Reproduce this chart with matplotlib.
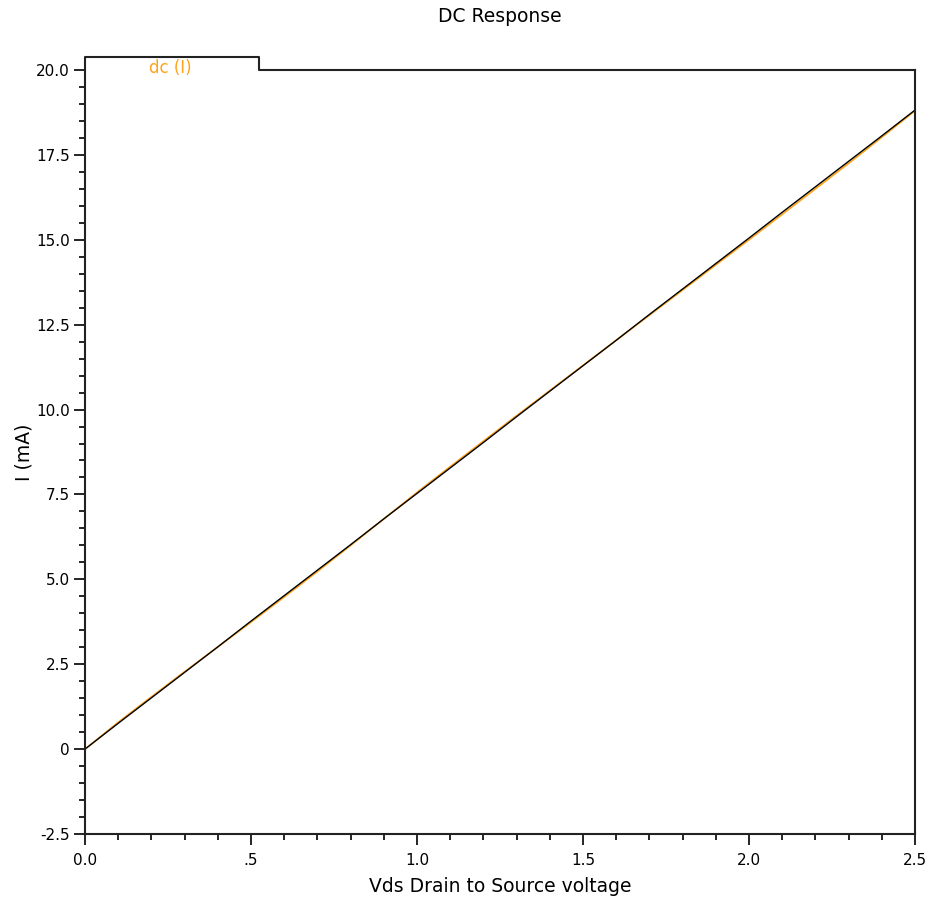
import matplotlib.pyplot as plt
from matplotlib.ticker import FixedLocator, MultipleLocator

# sweep values
vds = [0.0, 0.1, 0.2, 0.3, 0.4, 0.5, 0.6, 0.7, 0.8, 0.9, 1.0, 1.1, 1.2,
       1.3, 1.4, 1.5, 1.6, 1.7, 1.8, 1.9, 2.0, 2.1, 2.2, 2.3, 2.4, 2.5]
i_black = [0.0, 0.76, 1.51, 2.26, 3.01, 3.77, 4.52, 5.27, 6.02, 6.78,
           7.53, 8.28, 9.03, 9.79, 10.54, 11.29, 12.04, 12.80, 13.55,
           14.30, 15.05, 15.81, 16.56, 17.31, 18.06, 18.82]
i_dc = [0.0, 0.79, 1.54, 2.28, 3.01, 3.74, 4.48, 5.23, 6.00, 6.78,
        7.56, 8.32, 9.07, 9.82, 10.56, 11.30, 12.04, 12.78, 13.52,
        14.26, 15.00, 15.75, 16.50, 17.25, 18.02, 18.80]

x_ticks = [0.0, 0.5, 1.0, 1.5, 2.0, 2.5]
x_labels = ["0.0", ".5", "1.0", "1.5", "2.0", "2.5"]
y_ticks = [-2.5, 0, 2.5, 5.0, 7.5, 10.0, 12.5, 15.0, 17.5, 20.0]
y_labels = ["-2.5", "0", "2.5", "5.0", "7.5", "10.0", "12.5", "15.0", "17.5", "20.0"]

ORANGE = "#ffa31a"
FONT = "DejaVu Sans"
FS = 11
LFS = 13.5

fig = plt.figure(figsize=(9.34, 9.05), dpi=100)
ax = fig.add_axes([85 / 934, 1 - 834 / 905, 830 / 934, 764 / 905])

ax.plot(vds, i_dc, color=ORANGE, lw=1.2)
ax.plot(vds, i_black, color="black", lw=1.0)

ax.set_xlim(0, 2.5)
ax.set_ylim(-2.5, 20)

ax.xaxis.set_major_locator(FixedLocator(x_ticks))
ax.set_xticklabels(x_labels, family=FONT, fontsize=FS)
ax.xaxis.set_minor_locator(MultipleLocator(0.1))
ax.yaxis.set_major_locator(FixedLocator(y_ticks))
ax.set_yticklabels(y_labels, family=FONT, fontsize=FS)
ax.yaxis.set_minor_locator(MultipleLocator(0.5))

ax.tick_params(which="major", direction="out", length=8, width=1.2)
ax.tick_params(axis="x", which="major", pad=6)
ax.tick_params(axis="y", which="major", pad=3)
ax.tick_params(which="minor", direction="out", length=4, width=1.2)

for s in ["left", "right", "bottom"]:
    ax.spines[s].set_linewidth(1.5)
    ax.spines[s].set_color("#222222")
ax.spines["top"].set_visible(False)

# legend tab on top edge
ax.plot([0, 0, 0.524, 0.524, 2.5], [20, 20.38, 20.38, 20, 20],
        color="#222222", lw=1.5, clip_on=False)
ax.text(0.256, 20.05, "dc (I)", color=ORANGE, family=FONT, fontsize=12,
        ha="center", va="center")

fig.text(500 / 934, 1 - 17 / 905, "DC Response", family=FONT, fontsize=LFS,
         ha="center", va="center")
ax.set_xlabel("Vds Drain to Source voltage", family=FONT, fontsize=LFS, labelpad=6)
ax.set_ylabel("I (mA)", family=FONT, fontsize=LFS, labelpad=2)

fig.savefig("out.png", dpi=100)
